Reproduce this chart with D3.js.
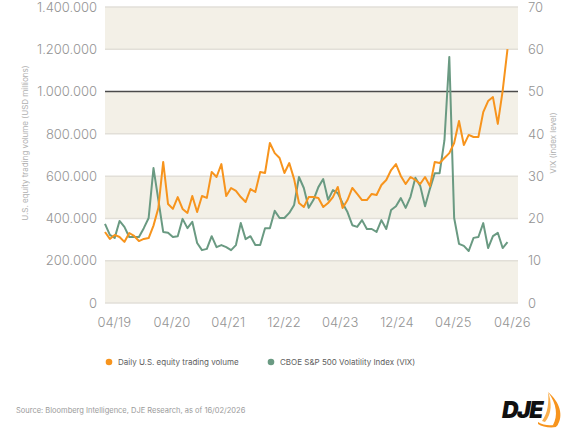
<!DOCTYPE html>
<html>
<head>
<meta charset="utf-8">
<script src="https://cdn.jsdelivr.net/npm/d3@7"></script>
<style>
  body { margin: 0; background: #fff; }
  svg text { font-family: Inter, "Open Sans", sans-serif; }
</style>
</head>
<body>
<div id="chart"></div>
<script>
// daily U.S. equity trading volume (USD millions), one point per period
var volume = [336000, 303000, 322000, 312000, 289000, 331000, 317000, 293000, 303000, 307000,
    366000, 449000, 667000, 468000, 445000, 501000, 445000, 426000, 506000, 430000,
    506000, 497000, 620000, 596000, 657000, 506000, 544000, 530000, 501000, 478000,
    539000, 525000, 620000, 615000, 757000, 709000, 686000, 615000, 662000, 586000,
    473000, 454000, 501000, 501000, 497000, 454000, 473000, 501000, 549000, 449000,
    487000, 544000, 516000, 487000, 487000, 516000, 511000, 558000, 582000, 629000,
    657000, 601000, 563000, 596000, 582000, 563000, 596000, 553000, 667000, 662000,
    686000, 709000, 757000, 861000, 747000, 795000, 785000, 785000, 903000, 955000,
    974000, 847000, 1003000, 1201000];

// CBOE S&P 500 volatility index
var vix = [18.7, 16.1, 15.4, 19.4, 18.0, 15.6, 15.6, 15.6, 17.7, 20.1,
    31.9, 24.4, 16.8, 16.6, 15.6, 15.8, 19.9, 17.7, 19.2, 14.2,
    12.5, 12.8, 15.8, 13.2, 13.7, 13.2, 12.5, 13.7, 18.9, 15.1,
    15.8, 13.7, 13.7, 17.7, 17.7, 21.8, 20.1, 20.1, 21.3, 23.2,
    29.8, 27.2, 22.5, 24.4, 27.4, 29.3, 24.4, 26.7, 26.0, 23.6,
    21.5, 18.4, 18.0, 19.6, 17.5, 17.5, 16.8, 19.6, 17.5, 22.0,
    22.9, 24.8, 22.5, 25.1, 29.6, 27.7, 22.9, 27.0, 30.7, 30.7,
    38.5, 58.2, 20.1, 14.0, 13.5, 12.3, 15.4, 15.6, 18.9, 13.0,
    15.8, 16.6, 13.0, 14.4];

var xLabels = ["04/19", "04/20", "04/21", "12/22", "04/23", "12/24", "04/25", "04/26"];
var xLabelPos = [1.9, 13.8, 25.4, 36.9, 48.5, 60.2, 71.8, 84.0];

var leftTicks = [0, 200000, 400000, 600000, 800000, 1000000, 1200000, 1400000];
var rightTicks = [0, 10, 20, 30, 40, 50, 60, 70];

var W = 576, H = 432;
var margin = { left: 105, right: 518, top: 7, bottom: 303 };

var svg = d3.select("#chart").append("svg")
    .attr("width", W).attr("height", H);

var x = d3.scaleLinear().domain([0, volume.length - 1]).range([margin.left, 507.5]);
var yL = d3.scaleLinear().domain([0, 1400000]).range([margin.bottom, margin.top]);
var yR = d3.scaleLinear().domain([0, 70]).range([margin.bottom, margin.top]);

var fmt = d3.formatLocale({ decimal: ",", thousands: ".", grouping: [3], currency: ["", ""] }).format(",d");

// alternating bands
for (var i = 0; i < leftTicks.length - 1; i++) {
    if (i % 2 == 0) {
        svg.append("rect")
            .attr("x", margin.left)
            .attr("width", margin.right - margin.left)
            .attr("y", yL(leftTicks[i + 1]))
            .attr("height", yL(leftTicks[i]) - yL(leftTicks[i + 1]))
            .attr("fill", "#f3f0e7");
    }
}

// grid lines
svg.selectAll(".grid")
    .data(leftTicks)
    .enter().append("line")
    .attr("x1", margin.left).attr("x2", margin.right)
    .attr("y1", d => yL(d)).attr("y2", d => yL(d))
    .attr("stroke", d => d == 1000000 ? "#4b4b4b" : "#e2dfd8")
    .attr("stroke-width", d => d == 1000000 ? 1.6 : 1.5);

// left tick labels
svg.selectAll(".ltick")
    .data(leftTicks)
    .enter().append("text")
    .attr("x", 97)
    .attr("y", d => yL(d))
    .attr("dy", "0.36em")
    .attr("text-anchor", "end")
    .attr("font-size", "13px")
    .attr("font-weight", 300)
    .attr("fill", "#949494")
    .text(d => fmt(d));

// right tick labels
svg.selectAll(".rtick")
    .data(rightTicks)
    .enter().append("text")
    .attr("x", 528)
    .attr("y", d => yR(d))
    .attr("dy", "0.36em")
    .attr("font-size", "13px")
    .attr("font-weight", 300)
    .attr("fill", "#949494")
    .text(d => d);

// x labels
svg.selectAll(".xtick")
    .data(xLabels)
    .enter().append("text")
    .attr("x", (d, i) => x(xLabelPos[i]))
    .attr("y", 327)
    .attr("text-anchor", "middle")
    .attr("font-size", "13px")
    .attr("font-weight", 300)
    .attr("fill", "#949494")
    .text(d => d);

// axis titles
svg.append("text")
    .attr("transform", "translate(28,143) rotate(-90)")
    .attr("text-anchor", "middle")
    .attr("font-size", "8px")
    .attr("fill", "#b0b0b0")
    .text("U.S. equity trading volume (USD millions)");

svg.append("text")
    .attr("transform", "translate(556,143) rotate(-90)")
    .attr("text-anchor", "middle")
    .attr("font-size", "8px")
    .attr("fill", "#b0b0b0")
    .text("VIX (index level)");

// lines
var lineL = d3.line().x((d, i) => x(i)).y(d => yL(d));
var lineR = d3.line().x((d, i) => x(i)).y(d => yR(d));

svg.append("path")
    .datum(vix)
    .attr("d", lineR)
    .attr("fill", "none")
    .attr("stroke", "#6a9a82")
    .attr("stroke-width", 2)
    .attr("stroke-linejoin", "round");

svg.append("path")
    .datum(volume)
    .attr("d", lineL)
    .attr("fill", "none")
    .attr("stroke", "#f7941d")
    .attr("stroke-width", 2)
    .attr("stroke-linejoin", "round");

// legend
var legend = [
    { name: "Daily U.S. equity trading volume", color: "#f7941d", x: 109 },
    { name: "CBOE S&P 500 Volatility Index (VIX)", color: "#6a9a82", x: 271 }
];
legend.forEach(function(l) {
    svg.append("circle")
        .attr("cx", l.x).attr("cy", 362).attr("r", 3.3)
        .attr("fill", l.color);
    svg.append("text")
        .attr("x", l.x + 9).attr("y", 362)
        .attr("dy", "0.35em")
        .attr("font-size", "8px")
        .attr("fill", "#5e5e5e")
        .text(l.name);
});

// source
svg.append("text")
    .attr("x", 16).attr("y", 413)
    .attr("font-size", "7.5px")
    .attr("fill", "#9a9a9a")
    .text("Source: Bloomberg Intelligence, DJE Research, as of 16/02/2026");

// logo
var logo = svg.append("g").attr("transform", "translate(480,380)");
logo.append("path")
    .attr("d", "M68,12 C80,22 84,36 77,46 L73,45 C78,36 77,24 68,12 Z")
    .attr("fill", "#f7941d");
logo.append("path")
    .attr("d", "M68,12 C72,22 72,34 65,42 L62,41 C68,33 69,22 68,12 Z")
    .attr("fill", "#f9b04f");
logo.append("path")
    .attr("d", "M58,42 C64,46 72,46 78,44 L76,47 C70,48 62,47 58,44 Z")
    .attr("fill", "#f7941d");
logo.append("text")
    .attr("x", 22).attr("y", 38)
    .attr("font-size", "23px")
    .attr("font-weight", "900")
    .attr("font-style", "italic")
    .attr("letter-spacing", "-1.5px")
    .attr("fill", "#111")
    .text("DJE");
</script>
</body>
</html>
